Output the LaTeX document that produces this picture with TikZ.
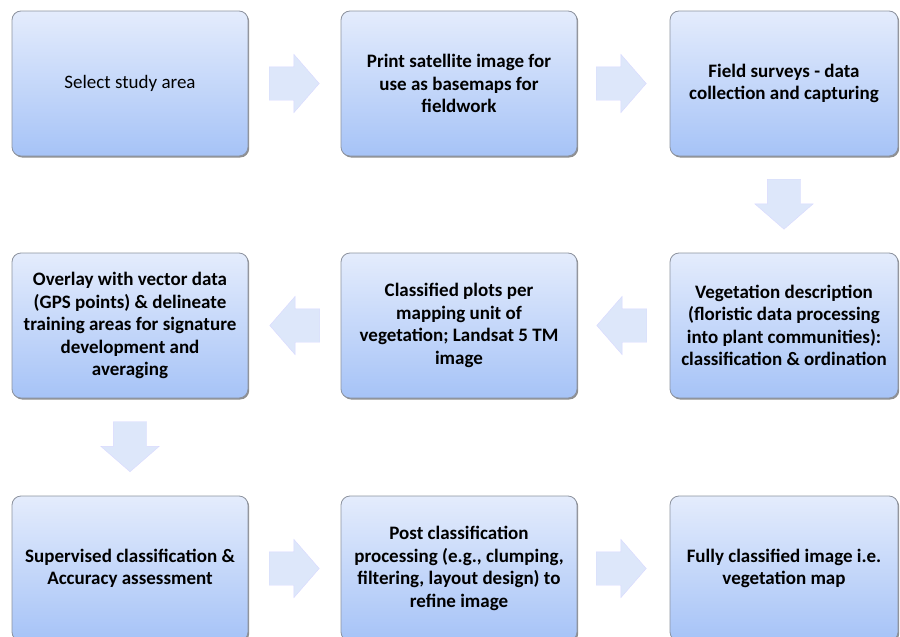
\documentclass[tikz,border=0pt]{standalone}
\usepackage{fontspec}
\setmainfont{Carlito}
\usetikzlibrary{positioning,calc,shapes.arrows,shadows}
\definecolor{boxtop}{RGB}{228,236,252}
\definecolor{boxbottom}{RGB}{166,195,247}
\definecolor{boxline}{RGB}{140,146,158}
\definecolor{arrowfill}{RGB}{221,231,250}

\begin{document}
\begin{tikzpicture}[x=1pt, y=-1pt,
  stepbox/.style={draw=boxline, line width=0.8pt, rounded corners=9pt,
    top color=boxtop, bottom color=boxbottom,
    minimum width=236pt, minimum height=145pt, align=center,
    font=\fontsize{19}{22.5}\selectfont\bfseries,
    drop shadow={shadow xshift=1.2pt, shadow yshift=-1.5pt, fill=black!55, opacity=0.8}},
  flowarrow/.style={single arrow, fill=arrowfill, draw=white!85!blue, line width=0.4pt,
    minimum height=50pt, single arrow head extend=12.5pt, single arrow tip angle=98,
    single arrow head indent=0pt, inner xsep=0pt, inner ysep=16.5pt, anchor=tip}]
\useasboundingbox (0,0) rectangle (900,637);
% first row
\node[stepbox, font=\fontsize{19}{22.5}\selectfont] (select) at (130,83.5) {Select study area};
\node[stepbox] (print) at (459,83.5) {Print satellite image for\\use as basemaps for\\fieldwork};
\node[stepbox, minimum width=228pt] (survey) at (784,83.5) {Field surveys - data\\collection and capturing};
% second row
\node[stepbox] (overlay) at (130,325.5) {Overlay with vector data\\(GPS points) \& delineate\\training areas for signature\\development and\\averaging};
\node[stepbox] (plots) at (459,325.5) {Classified plots per\\mapping unit of\\vegetation; Landsat 5 TM\\image};
\node[stepbox, minimum width=228pt] (vegdesc) at (784,325.5) {Vegetation description\\(floristic data processing\\into plant communities):\\classification \& ordination};
% third row
\node[stepbox] (supclass) at (130,568.5) {Supervised classification \&\\Accuracy assessment};
\node[stepbox] (postclass) at (459,568.5) {Post classification\\processing (e.g., clumping,\\filtering, layout design) to\\refine image};
\node[stepbox, minimum width=228pt] (vegmap) at (784,568.5) {Fully classified image i.e.\\vegetation map};
% block arrows between the steps, tip 25pt past the midpoint
\foreach \a/\b/\r in {select/print/0, print/survey/0, survey/vegdesc/-90, vegdesc/plots/180,
  plots/overlay/180, overlay/supclass/-90, supclass/postclass/0, postclass/vegmap/0}{
  \node[flowarrow, rotate=\r] (arr-\a) at ($ ($(\a)!0.5!(\b)$) !25pt! (\b) $) {};
}
\end{tikzpicture}
\end{document}
